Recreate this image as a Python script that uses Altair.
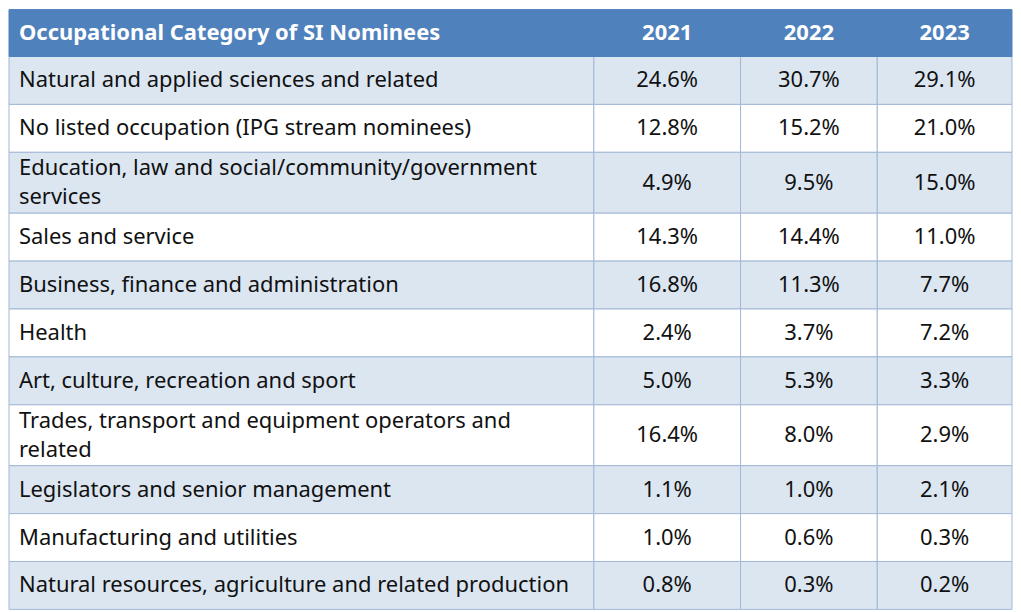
import altair as alt
import pandas as pd

header = ["Occupational Category of SI Nominees", "2021", "2022", "2023"]
categories = [
    "Natural and applied sciences and related",
    "No listed occupation (IPG stream nominees)",
    "Education, law and social/community/government\nservices",
    "Sales and service",
    "Business, finance and administration",
    "Health",
    "Art, culture, recreation and sport",
    "Trades, transport and equipment operators and\nrelated",
    "Legislators and senior management",
    "Manufacturing and utilities",
    "Natural resources, agriculture and related production",
]
v2021 = ["24.6%", "12.8%", "4.9%", "14.3%", "16.8%", "2.4%", "5.0%", "16.4%", "1.1%", "1.0%", "0.8%"]
v2022 = ["30.7%", "15.2%", "9.5%", "14.4%", "11.3%", "3.7%", "5.3%", "8.0%", "1.0%", "0.6%", "0.3%"]
v2023 = ["29.1%", "21.0%", "15.0%", "11.0%", "7.7%", "7.2%", "3.3%", "2.9%", "2.1%", "0.3%", "0.2%"]

W, H = 1005, 598
col_edges = [0, 586, 733, 870, 1005]
HEADER_H, ROW1_H, ROW2_H = 47, 48, 61
LINE_H = 29
FONT = "Noto Sans"
FS = 22

HEAD_BG = "#4F81BD"
ODD_BG = "#DCE6F1"
EVEN_BG = "#FFFFFF"
BORDER = "#A3B8D6"
TEXT = "#111111"

head_rects = []
head_left_rows = []
head_center_rows = []
for c in range(4):
    head_rects.append(dict(x0=col_edges[c], x1=col_edges[c + 1], y0=0, y1=HEADER_H))
    if c == 0:
        head_left_rows.append(dict(tx=10, ty=HEADER_H / 2, text=header[c]))
    else:
        head_center_rows.append(dict(tx=(col_edges[c] + col_edges[c + 1]) / 2, ty=HEADER_H / 2, text=header[c]))

cells = []
labels = []
values = []
y = HEADER_H
for i, cat in enumerate(categories):
    n_lines = cat.count("\n") + 1
    h = ROW2_H if n_lines > 1 else ROW1_H
    fill = ODD_BG if i % 2 == 0 else EVEN_BG
    for c in range(4):
        cells.append(dict(x0=col_edges[c], x1=col_edges[c + 1], y0=y, y1=y + h, fill=fill))
    labels.append(dict(tx=10, ty=y + h / 2 - (n_lines - 1) * LINE_H / 2, text=cat))
    for c, arr in enumerate([v2021, v2022, v2023], start=1):
        values.append(dict(tx=(col_edges[c] + col_edges[c + 1]) / 2, ty=y + h / 2, text=arr[i]))
    y += h

xs = alt.Scale(domain=[0, W], nice=False, zero=False)
ys = alt.Scale(domain=[0, H], nice=False, zero=False, reverse=True)

head_rect = alt.Chart(pd.DataFrame(head_rects)).mark_rect(
    fill=HEAD_BG, stroke=HEAD_BG, strokeWidth=1
).encode(
    x=alt.X("x0:Q", scale=xs, axis=None), x2="x1:Q",
    y=alt.Y("y0:Q", scale=ys, axis=None), y2="y1:Q",
)

body_rect = alt.Chart(pd.DataFrame(cells)).mark_rect(
    stroke=BORDER, strokeWidth=1
).encode(
    x=alt.X("x0:Q", scale=xs, axis=None), x2="x1:Q",
    y=alt.Y("y0:Q", scale=ys, axis=None), y2="y1:Q",
    fill=alt.Fill("fill:N", scale=None),
)

head_left = alt.Chart(pd.DataFrame(head_left_rows)).mark_text(
    align="left", baseline="middle", font=FONT, fontSize=FS, fontWeight="bold", color="white"
).encode(
    x=alt.X("tx:Q", scale=xs, axis=None), y=alt.Y("ty:Q", scale=ys, axis=None), text="text:N"
)
head_center = alt.Chart(pd.DataFrame(head_center_rows)).mark_text(
    align="center", baseline="middle", font=FONT, fontSize=FS, fontWeight="bold", color="white"
).encode(
    x=alt.X("tx:Q", scale=xs, axis=None), y=alt.Y("ty:Q", scale=ys, axis=None), text="text:N"
)

label_text = alt.Chart(pd.DataFrame(labels)).mark_text(
    align="left", baseline="middle", font=FONT, fontSize=FS, color=TEXT,
    lineBreak="\n", lineHeight=LINE_H
).encode(
    x=alt.X("tx:Q", scale=xs, axis=None), y=alt.Y("ty:Q", scale=ys, axis=None), text="text:N"
)

value_text = alt.Chart(pd.DataFrame(values)).mark_text(
    align="center", baseline="middle", font=FONT, fontSize=FS, color=TEXT
).encode(
    x=alt.X("tx:Q", scale=xs, axis=None), y=alt.Y("ty:Q", scale=ys, axis=None), text="text:N"
)

chart = alt.layer(body_rect, head_rect, head_left, head_center, label_text, value_text).properties(
    width=W, height=H, padding={"left": 0, "top": 0, "right": 0, "bottom": 0}
).configure_view(stroke=None)

chart.save("out.html", embed_options={"renderer": "svg", "actions": False})
